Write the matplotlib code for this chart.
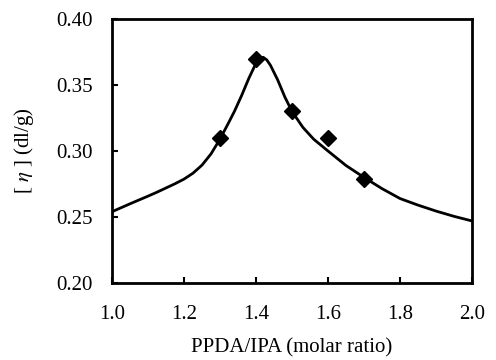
import matplotlib
matplotlib.use("Agg")
import matplotlib.pyplot as plt

# measured data points
x_pts = [1.3, 1.4, 1.5, 1.6, 1.7]
y_pts = [0.310, 0.370, 0.330, 0.310, 0.279]

# fitted curve
x_curve = [1.00, 1.05, 1.10, 1.125, 1.15, 1.175, 1.20, 1.225, 1.25, 1.275, 1.30, 1.325,
           1.34, 1.36, 1.38, 1.40, 1.41, 1.42, 1.43, 1.44, 1.46, 1.48, 1.50, 1.53,
           1.56, 1.60, 1.65, 1.70, 1.75, 1.80, 1.85, 1.90, 1.95, 2.00]
y_curve = [0.254, 0.260, 0.2658, 0.2688, 0.2720, 0.2752, 0.2787, 0.2832, 0.2893,
           0.2978, 0.309, 0.322, 0.330, 0.342, 0.355, 0.3665, 0.3700, 0.3710, 0.3690,
           0.365, 0.354, 0.341, 0.330, 0.318, 0.309, 0.300, 0.289, 0.280, 0.2715,
           0.264, 0.259, 0.2545, 0.2505, 0.247]

x_ticks = [1.0, 1.2, 1.4, 1.6, 1.8, 2.0]
y_ticks = [0.20, 0.25, 0.30, 0.35, 0.40]

plt.rcParams['font.family'] = ['Liberation Serif', 'DejaVu Serif']
plt.rcParams['mathtext.fontset'] = 'stix'

fig = plt.figure(figsize=(4.96, 3.6), dpi=100)
ax = fig.add_axes([112/496, 1 - 283/360, 360/496, 264/360])

ax.plot(x_curve, y_curve, color='black', lw=2.0, zorder=2,
        solid_joinstyle='round', solid_capstyle='round')
ax.plot(x_pts, y_pts, linestyle='none', marker='D', markersize=8.5,
        color='black', zorder=3)

ax.set_xlim(1.0, 2.0)
ax.set_ylim(0.20, 0.40)
ax.set_xticks(x_ticks)
ax.set_yticks(y_ticks)
ax.set_xticklabels([f"{v:.1f}" for v in x_ticks])
ax.set_yticklabels([f"{v:.2f}" for v in y_ticks])
ax.tick_params(direction='in', length=4, width=1.5, labelsize=15)
ax.tick_params(axis='x', pad=16)
ax.tick_params(axis='y', pad=14)
for s in ax.spines.values():
    s.set_linewidth(2.0)

ax.set_xlabel("PPDA/IPA (molar ratio)", fontsize=15, labelpad=10)
ax.set_ylabel(r"[ $\eta$ ] (dl/g)", fontsize=15, labelpad=14)

fig.savefig("out.png", dpi=100)
